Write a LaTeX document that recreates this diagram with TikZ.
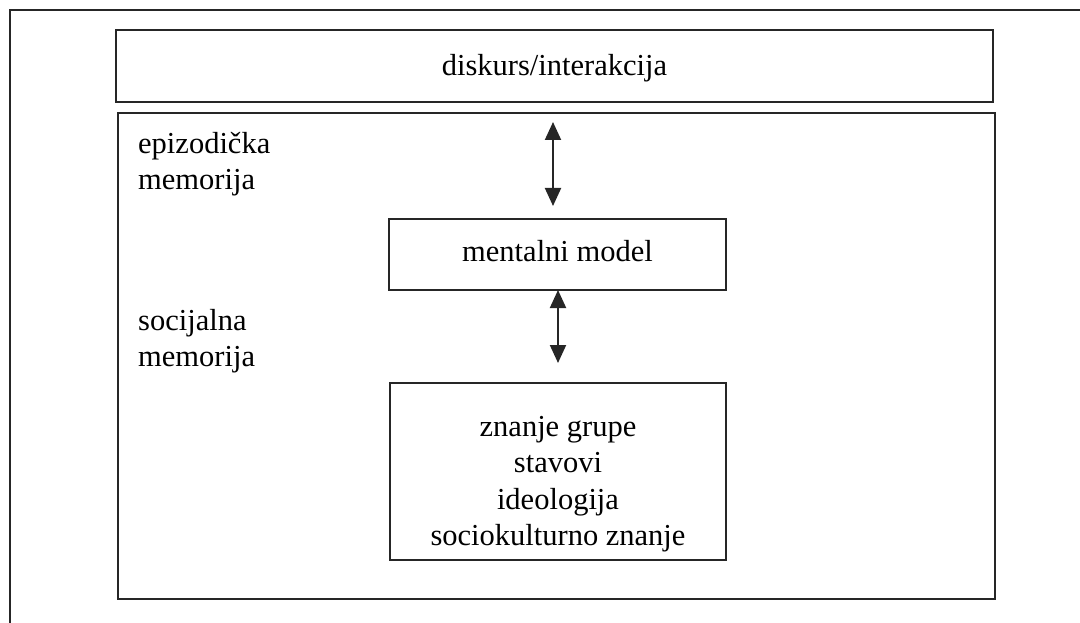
\documentclass[tikz,border=0pt]{standalone}
\usepackage{fontspec}
\setmainfont{Liberation Serif}
\usetikzlibrary{arrows.meta}
\begin{document}
\begin{tikzpicture}[x=1pt,y=-1pt,
  frame/.style={draw=black!85,line width=2pt},
  boxtxt/.style={font=\fontsize{30.5}{36.5}\selectfont,align=center},
  lbl/.style={font=\fontsize{30.5}{36.5}\selectfont,align=left,anchor=north west,inner sep=0pt},
  dbl/.style={draw=black!85,line width=2pt,{Triangle[width=16pt,length=18pt]}-{Triangle[width=16pt,length=18pt]}}]
\useasboundingbox (0,0) rectangle (1080,623);
% outer open frame
\coordinate (otl) at (10,10);
\coordinate (otr) at (1080,10);
\coordinate (obl) at (10,623);
\draw[frame] (obl) -- (otl) -- (otr);
% top box
\draw[frame] (116,30) rectangle (993,102);
\node[boxtxt] (disk) at (554.5,68) {diskurs/interakcija};
% big box
\draw[frame] (118,113) rectangle (995,599);
\node[lbl] (epi) at (138,132) {epizodička\\memorija};
\node[lbl] (soc) at (138,309) {socijalna\\memorija};
% mental model
\draw[frame] (389,219) rectangle (726,290);
\node[boxtxt] (mm) at (557.5,251) {mentalni model};
% knowledge box
\draw[frame] (390,383) rectangle (726,560);
\node[boxtxt] (zn) at (558,484) {znanje grupe\\stavovi\\ideologija\\sociokulturno znanje};
% arrows
\coordinate (a1s) at (553,122);
\coordinate (a1e) at (553,206);
\coordinate (a2s) at (558,290);
\coordinate (a2e) at (558,363);
\draw[dbl] (a1s) -- (a1e);
\draw[dbl] (a2s) -- (a2e);
\end{tikzpicture}
\end{document}
